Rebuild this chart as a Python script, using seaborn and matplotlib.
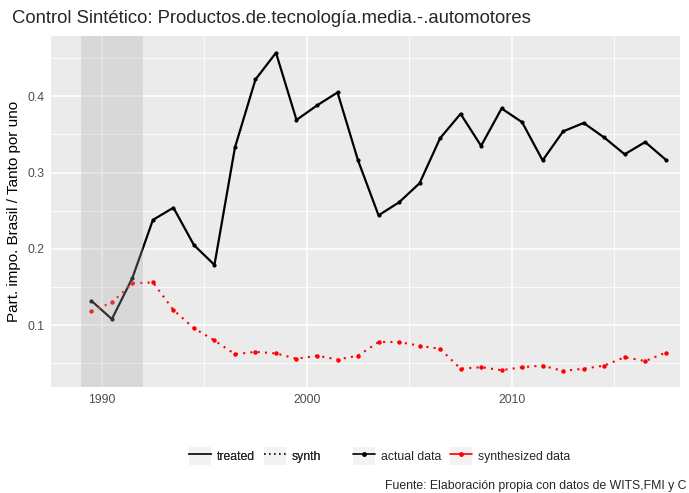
import numpy as np
import pandas as pd
import matplotlib
matplotlib.use("Agg")
import matplotlib.pyplot as plt
import seaborn as sns
from matplotlib.lines import Line2D
from matplotlib.patches import Rectangle
from matplotlib.legend_handler import HandlerTuple

# datos
years = [1989.5 + i for i in range(29)]
treated = [0.132, 0.108, 0.162, 0.238, 0.254, 0.205, 0.179, 0.333, 0.422, 0.457,
           0.369, 0.388, 0.405, 0.316, 0.244, 0.261, 0.286, 0.345, 0.377, 0.335,
           0.384, 0.366, 0.316, 0.354, 0.365, 0.346, 0.324, 0.340, 0.317]
synth = [0.118, 0.130, 0.155, 0.156, 0.120, 0.096, 0.080, 0.062, 0.065, 0.063,
         0.056, 0.060, 0.055, 0.060, 0.078, 0.078, 0.073, 0.069, 0.043, 0.045,
         0.041, 0.045, 0.047, 0.040, 0.043, 0.047, 0.058, 0.053, 0.064]
tratamiento = (1989, 1992)

df = pd.DataFrame({"year": years, "treated": treated, "synth": synth})

sns.set_theme(style="darkgrid")
plt.rcParams["font.family"] = ["Liberation Sans", "DejaVu Sans"]

fig = plt.figure(figsize=(6.89, 4.93), dpi=100)
ax = fig.add_axes([0.074, 0.215, 0.913, 0.712])
ax.set_facecolor("#EBEBEB")

sns.lineplot(data=df, x="year", y="treated", ax=ax, color="black", linewidth=1.6,
             marker="o", markersize=3, markeredgewidth=0, zorder=3)
sns.lineplot(data=df, x="year", y="synth", ax=ax, color="red", linewidth=1.5,
             linestyle=(0, (1, 2.5)), marker="o", markersize=3.2, markeredgewidth=0, zorder=3)

ax.axvspan(*tratamiento, color="#ACACAC", alpha=0.29, lw=0, zorder=4)

ax.set_xlim(1987.53, 2018.2)
ax.set_ylim(0.019, 0.479)
ax.set_xticks([1990, 2000, 2010])
ax.set_xticks([1995, 2005, 2015], minor=True)
ax.set_yticks([0.1, 0.2, 0.3, 0.4])
ax.set_yticks([0.05, 0.15, 0.25, 0.35, 0.45], minor=True)
ax.set_yticklabels(["0.1", "0.2", "0.3", "0.4"])
ax.grid(which="major", color="white", linewidth=1.1)
ax.grid(which="minor", color="white", linewidth=0.55)
for s in ax.spines.values():
    s.set_visible(False)
ax.tick_params(axis="both", which="major", length=3, width=0.8, color="#333333",
               labelsize=8.8, labelcolor="#4D4D4D", pad=2)
ax.tick_params(which="minor", length=0)
ax.set_xlabel("")
ax.set_ylabel("Part. impo. Brasil / Tanto por uno", fontsize=11, color="black", labelpad=4)

fig.text(0.017, 0.963, "Control Sintético: Productos.de.tecnología.media.-.automotores",
         fontsize=13.3, ha="left", va="center")
fig.text(0.996, 0.002, "Fuente: Elaboración propia con datos de WITS,FMI y C",
         fontsize=8.8, ha="right", va="bottom")

# leyendas
def caja():
    return Rectangle((0, 0), 1, 1, facecolor="#F2F2F2", edgecolor="none")

h1 = [(caja(), Line2D([], [], color="black", lw=1.2)),
      (caja(), Line2D([], [], color="black", lw=1.2, linestyle=(0, (1, 2))))]
h2 = [(caja(), Line2D([], [], color="black", lw=1.2, marker="o", markersize=2.5)),
      (caja(), Line2D([], [], color="red", lw=1.2, marker="o", markersize=2.5))]
kw = dict(loc="center", ncol=2, frameon=False, fontsize=8.8, handlelength=1.8,
          handleheight=1.8, handletextpad=0.5, columnspacing=0.7, borderpad=0.2,
          handler_map={tuple: HandlerTuple(ndivide=1, pad=0)})
l1 = fig.legend(h1, ["treated", "synth"], bbox_to_anchor=(0.37, 0.075), **kw)
fig.add_artist(l1)
fig.legend(h2, ["actual data", "synthesized data"], bbox_to_anchor=(0.67, 0.075), **kw)

fig.savefig("out.png", dpi=100)
